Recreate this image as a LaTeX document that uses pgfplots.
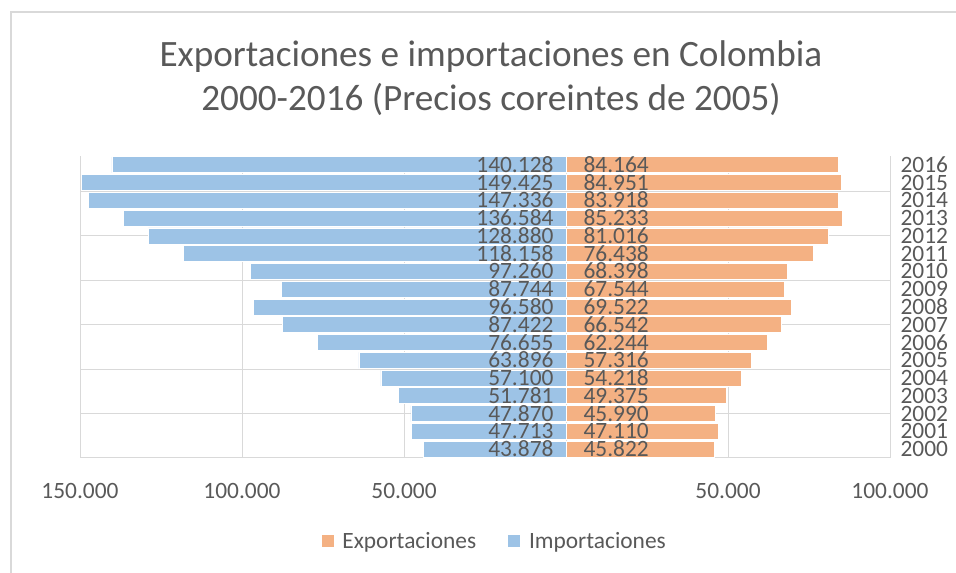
\documentclass[border=0pt]{standalone}
\usepackage{pgfplots}
\usepackage{pgfplotstable}
\usepackage{fontspec}
\setmainfont{Carlito}
\pgfplotsset{compat=1.18}
\definecolor{expc}{HTML}{F4B183}
\definecolor{impc}{HTML}{9DC3E6}
\definecolor{txt}{HTML}{595959}
\definecolor{gridc}{HTML}{D9D9D9}
\pgfplotstableread{
idx year imp exp
0 2000 43878 45822
1 2001 47713 47110
2 2002 47870 45990
3 2003 51781 49375
4 2004 57100 54218
5 2005 63896 57316
6 2006 76655 62244
7 2007 87422 66542
8 2008 96580 69522
9 2009 87744 67544
10 2010 97260 68398
11 2011 118158 76438
12 2012 128880 81016
13 2013 136584 85233
14 2014 147336 83918
15 2015 149425 84951
16 2016 140128 84164
}\datatable
\begin{document}
\begin{tikzpicture}
\useasboundingbox (0pt,0pt) rectangle (956pt,573pt);
\draw[gridc, line width=1.2pt] (11pt,0pt) -- (11pt,561pt) -- (956pt,561pt);
\node[font=\fontsize{37.2}{44}\selectfont, text=txt, align=center] at (491pt,495pt)
  {Exportaciones e importaciones en Colombia\\2000-2016 (Precios coreintes de 2005)};
\begin{axis}[
  at={(80pt,115pt)}, anchor=south west,
  scale only axis, width=810pt, height=302pt,
  xmin=-150000, xmax=100000,
  ymin=-0.5, ymax=16.5,
  scaled x ticks=false,
  axis line style={draw=none},
  xtick={-150000,-100000,-50000,0,50000,100000},
  xticklabels={150.000,100.000,50.000,,50.000,100.000},
  xmajorgrids, major grid style={gridc, line width=1pt},
  ytick={0,...,16},
  yticklabels={2000,2001,2002,2003,2004,2005,2006,2007,2008,2009,2010,2011,2012,2013,2014,2015,2016},
  yticklabel pos=right,
  extra y ticks={-0.5,2,4.5,7,9.5,12,14.5},
  extra y tick labels={},
  extra y tick style={ymajorgrids=true, major grid style={gridc, line width=1pt}},
  major tick length=0pt,
  tick label style={font=\fontsize{23.4}{24}\selectfont, text=txt},
  xticklabel style={yshift=-22pt},
  yticklabel style={xshift=7pt, text height=15pt, text depth=0pt, inner ysep=1pt},
  /pgf/number format/.cd, fixed, precision=0, 1000 sep={.}, assume math mode=true,
  /pgfplots/.cd,
  legend style={at={(0.512,-0.275)}, anchor=center, draw=none, fill=none,
    legend columns=2, font=\fontsize{23.4}{24}\selectfont, text=txt,
    /tikz/every odd column/.append style={column sep=7pt},
    /tikz/every even column/.append style={column sep=30pt}},
]
\addplot[xbar, bar shift=0pt, bar width=0.9, fill=expc, draw=white, line width=0.8pt,
  legend image code/.code={\fill[expc] (0pt,-5.5pt) rectangle (11pt,5.5pt);}]
  table[x=exp, y=idx] {\datatable};
\addlegendentry{Exportaciones}
\addplot[xbar, bar shift=0pt, bar width=0.9, fill=impc, draw=white, line width=0.8pt,
  legend image code/.code={\fill[impc] (0pt,-5.5pt) rectangle (11pt,5.5pt);}]
  table[x expr=-\thisrow{imp}, y=idx] {\datatable};
\addlegendentry{Importaciones}
\addplot[draw=none, mark=none, forget plot, nodes near coords, point meta=explicit,
  every node near coord/.append style={anchor=east, xshift=-9pt, font=\fontsize{23.4}{24}\selectfont, text=txt,
    text height=15pt, text depth=0pt, inner ysep=1pt}]
  table[x expr=0, y=idx, meta=imp] {\datatable};
\addplot[draw=none, mark=none, forget plot, nodes near coords, point meta=explicit,
  every node near coord/.append style={anchor=west, xshift=14pt, font=\fontsize{23.4}{24}\selectfont, text=txt,
    text height=15pt, text depth=0pt, inner ysep=1pt}]
  table[x expr=0, y=idx, meta=exp] {\datatable};
\end{axis}
\end{tikzpicture}
\end{document}
